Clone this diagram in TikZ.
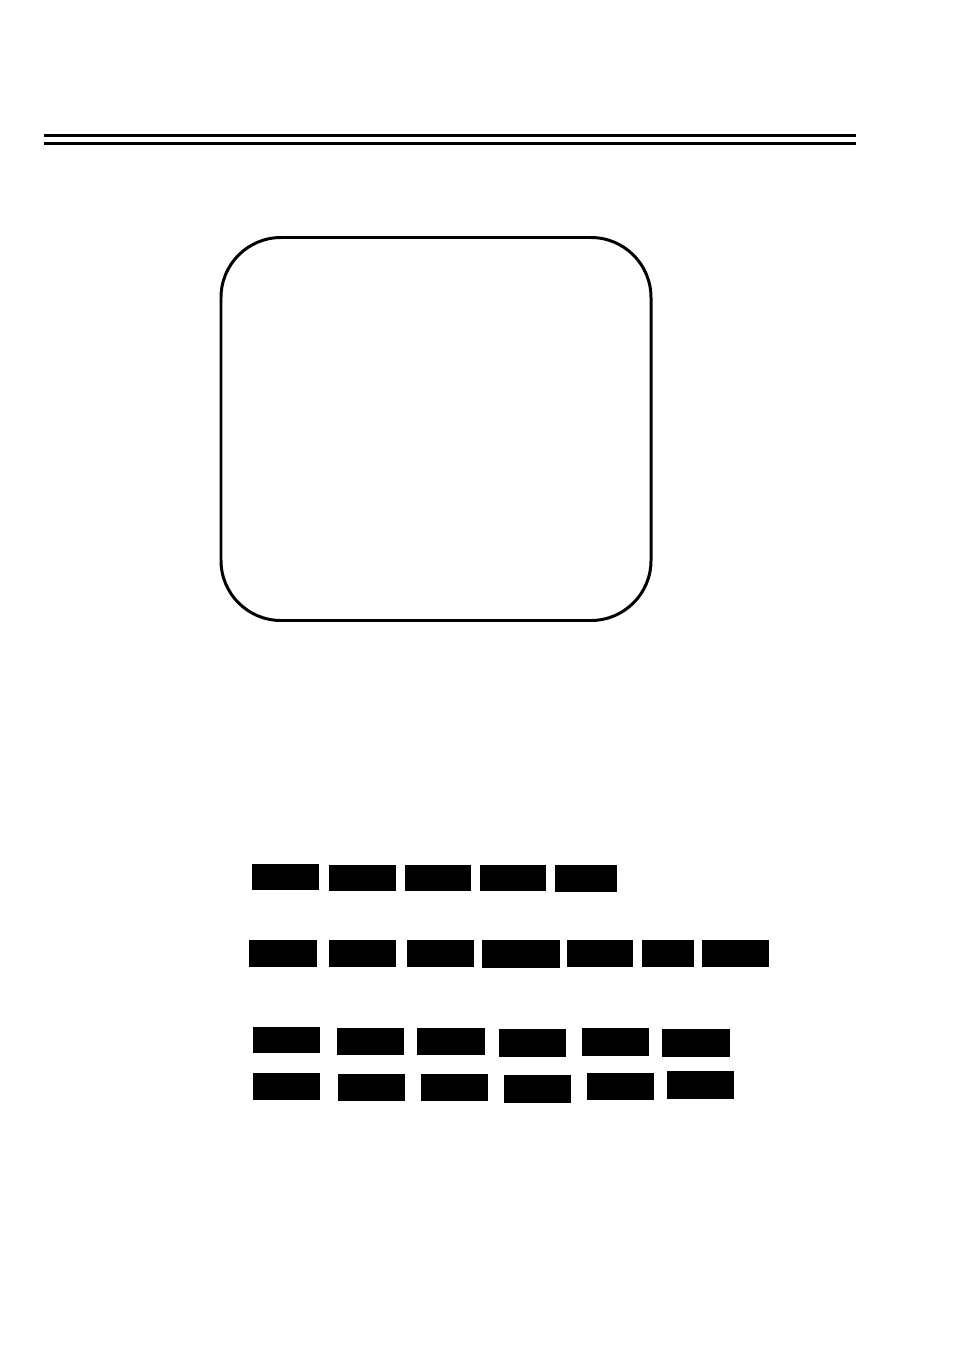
\documentclass[tikz,border=0pt]{standalone}
\begin{document}
\begin{tikzpicture}[x=0.02cm, y=-0.02cm, line join=round, line cap=butt]
			\useasboundingbox (0,0) rectangle (954,1348);
			\def\r{60}
			\path
			(44,135.5) coordinate (L1)
			(856,135.5) coordinate (R1)
			(44,143.5) coordinate (L2)
			(856,143.5) coordinate (R2)
			(221,237.5) coordinate (A)
			(651,620.5) coordinate (C)
			;
			\draw[line width=1.7pt] (L1)--(R1);
			\draw[line width=1.2pt] (L2)--(R2);
			\draw[line width=1.7pt, rounded corners=\r*0.02cm] (A) rectangle (C);
			% black boxes, rows top to bottom
			\foreach \xa/\xb/\ya/\yb in {252/319/864/890, 329/396/865/891, 405/471/865/891, 480/546/865/891, 555/617/865/892,
			249/317/940/967, 329/396/940/967, 407/474/940/967, 482/560/940/968, 567/633/940/967, 642/694/940/967, 702/769/940/967,
			253/320/1027/1053, 337/404/1028/1055, 417/485/1028/1055, 499/566/1029/1057, 582/649/1028/1056, 662/730/1029/1057,
			253/320/1073/1100, 338/405/1074/1101, 421/488/1074/1101, 504/571/1075/1103, 587/654/1073/1100, 667/734/1071/1099}
			\fill (\xa,\ya) rectangle (\xb,\yb);
\end{tikzpicture}
\end{document}
